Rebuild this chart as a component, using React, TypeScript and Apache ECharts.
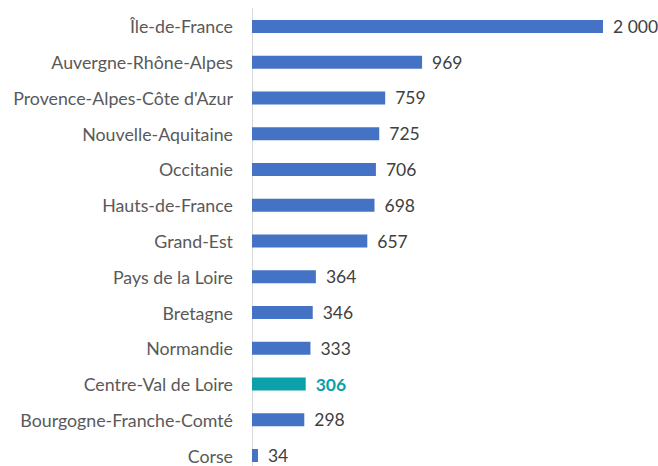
import React, { useEffect, useRef } from "react";
import * as echarts from "echarts";

const categories = [
  "Île-de-France",
  "Auvergne-Rhône-Alpes",
  "Provence-Alpes-Côte d'Azur",
  "Nouvelle-Aquitaine",
  "Occitanie",
  "Hauts-de-France",
  "Grand-Est",
  "Pays de la Loire",
  "Bretagne",
  "Normandie",
  "Centre-Val de Loire",
  "Bourgogne-Franche-Comté",
  "Corse",
];
const values = [2000, 969, 759, 725, 706, 698, 657, 364, 346, 333, 306, 298, 34];
const highlight = "Centre-Val de Loire";

const FONT = "Lato";

export default function App() {
  const ref = useRef<HTMLDivElement>(null);
  useEffect(() => {
    if (!ref.current) return;
    const chart = echarts.init(ref.current, null, { renderer: "svg" });
    const fmt = (v: number) => String(v).replace(/\B(?=(\d{3})+(?!\d))/g, " ");
    chart.setOption({
      animation: false,
      backgroundColor: "#ffffff",
      grid: { left: 252, right: 55, top: 8.6, bottom: 8.6, containLabel: false },
      xAxis: {
        type: "value",
        min: 0,
        max: 2000,
        show: false,
      },
      yAxis: {
        type: "category",
        inverse: true,
        data: categories,
        axisLine: { show: true, lineStyle: { color: "#d9d9d9", width: 1 } },
        axisTick: { show: false },
        axisLabel: {
          margin: 19,
          color: "#595959",
          fontFamily: FONT,
          fontSize: 17.8,
        },
      },
      series: [
        {
          type: "bar",
          barWidth: 13,
          data: values.map((v, i) => {
            const hi = categories[i] === highlight;
            return {
              value: v,
              itemStyle: { color: hi ? "#0aa1ab" : "#4472c4" },
              label: hi
                ? { color: "#0aa1ab", fontWeight: "bold" }
                : undefined,
            };
          }),
          label: {
            show: true,
            position: "right",
            distance: 10,
            color: "#404040",
            fontFamily: FONT,
            fontSize: 17.5,
            formatter: (p: any) => fmt(p.value),
          },
        },
      ],
    });
    return () => chart.dispose();
  }, []);
  return (
    <div
      ref={ref}
      style={{ position: "fixed", left: 0, top: 0, width: 658, height: 482, background: "#fff" }}
    />
  );
}
